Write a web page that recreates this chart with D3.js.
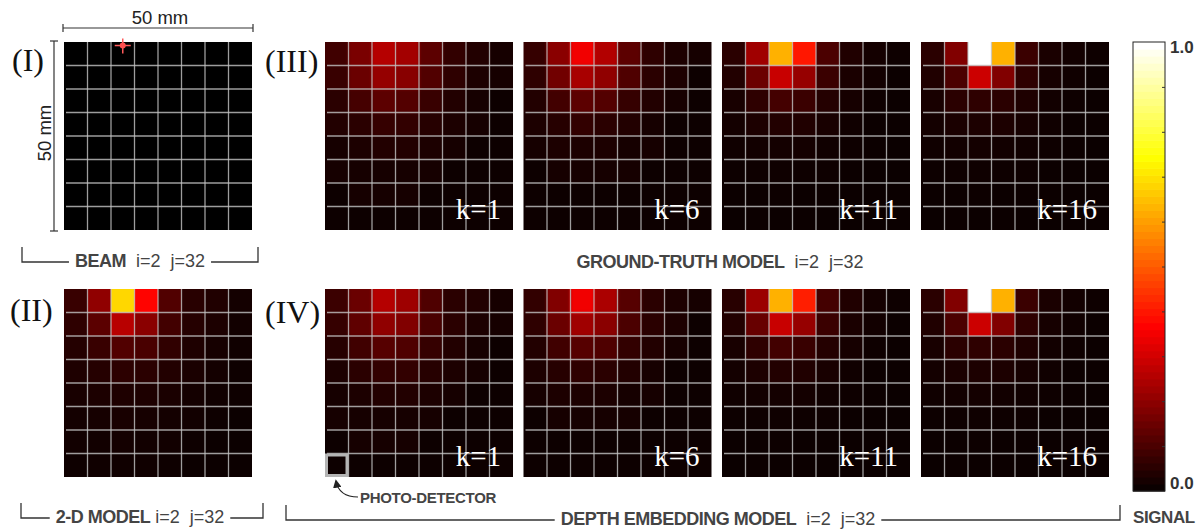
<!DOCTYPE html>
<html>
<head>
<meta charset="UTF-8">
<script src="https://d3js.org/d3.v7.min.js"></script>
<title>Beam / photo-detector maps</title>
<style>
  body { margin: 0; background: #fff; }
  text { white-space: pre; }
</style>
</head>
<body>
<svg></svg>
<script>
const width = 1201, height = 531;

// ---- data (signal, 0..1), rows top to bottom, 8 photo-detectors per row ----
const gridIdx = d3.range(8);

const beamMap = d3.range(8).map(() => d3.range(8).map(() => 0));
const beamSpot = {col: 2, row: 0.15};

const model2d = [
  [.068, .199, .686, .370, .104, .044, .032, .014],
  [.053, .119, .259, .190, .083, .039, .026, .011],
  [.038, .068, .104, .092, .056, .029, .017, .007],
  [.029, .039, .050, .047, .035, .023, .013, .005],
  [.020, .026, .029, .027, .023, .014, .008, .004],
  [.014, .017, .019, .017, .014, .010, .005, .002],
  [.010, .011, .013, .011, .010, .005, .002, .001],
  [.005, .007, .007, .007, .005, .002, .001, .001]
];

const truthK1 = [
  [.080, .166, .255, .228, .119, .060, .035, .016],
  [.068, .143, .207, .187, .104, .053, .029, .013],
  [.047, .087, .119, .107, .068, .038, .020, .008],
  [.032, .050, .063, .059, .041, .025, .013, .005],
  [.020, .029, .035, .032, .025, .016, .007, .002],
  [.013, .017, .020, .019, .014, .008, .004, .001],
  [.007, .010, .011, .010, .007, .004, .001, .001],
  [.002, .004, .005, .004, .002, .001, .000, .000]
];
const truthK6 = [
  [.063, .190, .345, .250, .119, .053, .029, .013],
  [.053, .152, .235, .199, .101, .047, .023, .008],
  [.035, .083, .119, .107, .063, .032, .014, .004],
  [.023, .041, .056, .050, .035, .019, .008, .002],
  [.014, .023, .026, .025, .019, .010, .004, .001],
  [.008, .013, .014, .013, .010, .005, .002, .001],
  [.004, .006, .007, .006, .005, .003, .001, .000],
  [.001, .002, .002, .002, .001, .000, .000, .000]
];
const truthK11 = [
  [.047, .223, .630, .400, .095, .032, .014, .004],
  [.035, .143, .283, .208, .071, .023, .010, .002],
  [.020, .053, .086, .071, .038, .016, .005, .001],
  [.013, .026, .035, .032, .020, .008, .002, .001],
  [.007, .011, .014, .013, .008, .004, .001, .000],
  [.003, .005, .006, .005, .004, .002, .000, .000],
  [.001, .002, .003, .002, .001, .001, .000, .000],
  [.000, .001, .001, .001, .000, .000, .000, .000]
];
const truthK16 = [
  [.047, .176, 1.00, .630, .071, .023, .011, .004],
  [.032, .095, .289, .176, .053, .017, .007, .002],
  [.020, .047, .053, .047, .029, .011, .004, .001],
  [.013, .023, .026, .025, .016, .007, .002, .001],
  [.007, .011, .013, .011, .007, .004, .001, .000],
  [.003, .005, .006, .005, .004, .002, .000, .000],
  [.001, .002, .003, .002, .001, .001, .000, .000],
  [.000, .001, .001, .001, .000, .000, .000, .000]
];

const depthK1 = [
  [.071, .143, .255, .220, .101, .047, .032, .014],
  [.063, .125, .199, .176, .092, .047, .029, .011],
  [.044, .080, .113, .101, .063, .035, .020, .008],
  [.030, .047, .060, .056, .040, .025, .013, .005],
  [.020, .029, .034, .032, .025, .016, .008, .002],
  [.013, .017, .020, .019, .014, .008, .004, .001],
  [.007, .010, .011, .010, .007, .004, .001, .001],
  [.002, .004, .005, .004, .002, .001, .000, .000]
];
const depthK6 = [
  [.060, .176, .345, .240, .113, .050, .029, .013],
  [.053, .143, .223, .190, .095, .047, .023, .008],
  [.035, .080, .113, .101, .060, .032, .014, .004],
  [.023, .041, .053, .050, .035, .019, .008, .002],
  [.014, .023, .026, .025, .019, .010, .004, .001],
  [.008, .013, .014, .013, .010, .005, .002, .001],
  [.004, .006, .007, .006, .005, .003, .001, .000],
  [.001, .002, .002, .002, .001, .000, .000, .000]
];
const depthK11 = [
  [.044, .215, .630, .410, .086, .032, .014, .004],
  [.035, .137, .283, .208, .071, .023, .010, .002],
  [.020, .053, .083, .068, .038, .016, .005, .001],
  [.013, .026, .035, .032, .020, .008, .002, .001],
  [.007, .011, .014, .013, .008, .004, .001, .000],
  [.003, .005, .006, .005, .004, .002, .000, .000],
  [.001, .002, .003, .002, .001, .001, .000, .000],
  [.000, .001, .001, .001, .000, .000, .000, .000]
];
const depthK16 = [
  [.047, .176, 1.00, .630, .071, .023, .011, .004],
  [.032, .095, .289, .176, .053, .017, .007, .002],
  [.020, .047, .053, .047, .029, .011, .004, .001],
  [.013, .023, .026, .025, .016, .007, .002, .001],
  [.007, .011, .013, .011, .007, .004, .001, .000],
  [.003, .005, .006, .005, .004, .002, .000, .000],
  [.001, .002, .003, .002, .001, .001, .000, .000],
  [.000, .001, .001, .001, .000, .000, .000, .000]
];

const kLabels = ["k=1", "k=6", "k=11", "k=16"];
const cbarTicks = d3.range(1, 10).map(d => d / 10);
const cbarLabels = [0, 1];

// ---- layout ----
const size = 188;
const colX = [325, 523.5, 722, 921];
const topY = 42, botY = 289;

// matlab-like "hot" colour map
const hot = d3.scaleLinear()
    .domain([0, 0.365, 0.746, 1])
    .range(["#0b0000", "#ff0000", "#ffff00", "#ffffff"])
    .clamp(true);
const beamColor = d3.scaleLinear().domain([0, 1]).range(["#000000", "#ff0000"]);

const xs = d3.scaleBand().domain(gridIdx).range([0, size]);
const ys = d3.scaleBand().domain(gridIdx).range([0, size]);

const svg = d3.select("svg")
    .attr("width", width)
    .attr("height", height)
    .attr("viewBox", [0, 0, width, height])
    .style("font-family", "'Liberation Sans', Arial, sans-serif");

const defs = svg.append("defs");
defs.append("filter")
    .attr("id", "soft")
    .attr("x", "-10%").attr("y", "-10%").attr("width", "120%").attr("height", "120%")
  .append("feGaussianBlur")
    .attr("stdDeviation", 1.8);
defs.append("clipPath")
    .attr("id", "panel-clip")
  .append("rect")
    .attr("width", size).attr("height", size);

function heatmap(x, y, data, color, label, soft) {
  const g = svg.append("g").attr("transform", `translate(${x},${y})`);
  const cells = data.flatMap((row, r) => row.map((v, c) => ({r, c, v})));
  // edge cells are stretched outward so a blur does not fade at the border
  const pad = soft ? 12 : 0;
  const cellG = g.append("g").attr("clip-path", "url(#panel-clip)")
    .append("g").attr("filter", soft ? "url(#soft)" : null);
  cellG.selectAll("rect")
    .data(cells)
    .join("rect")
      .attr("x", d => xs(d.c) - (d.c === 0 ? pad : 0))
      .attr("y", d => ys(d.r) - (d.r === 0 ? pad : 0))
      .attr("width", d => xs.bandwidth() + 0.5 + (d.c === 0 || d.c === 7 ? pad : 0))
      .attr("height", d => ys.bandwidth() + 0.5 + (d.r === 0 || d.r === 7 ? pad : 0))
      .attr("fill", d => color(d.v));
  const grid = g.append("g")
      .attr("stroke", "#c4c4c4")
      .attr("stroke-opacity", 0.8)
      .attr("stroke-width", 1.3);
  grid.selectAll(".v")
    .data(gridIdx.slice(1))
    .join("line")
      .attr("x1", d => xs(d)).attr("x2", d => xs(d))
      .attr("y1", 0).attr("y2", size);
  grid.selectAll(".h")
    .data(gridIdx.slice(1))
    .join("line")
      .attr("x1", 2).attr("x2", size)
      .attr("y1", d => ys(d)).attr("y2", d => ys(d));
  if (label) {
    g.append("text")
        .attr("x", size - 12)
        .attr("y", size - 11)
        .attr("text-anchor", "end")
        .attr("fill", "#fff")
        .style("font-family", "'Liberation Serif', 'Times New Roman', serif")
        .style("font-size", "29px")
        .text(label);
  }
  return g;
}

// (I) beam
const beamG = heatmap(64, topY, beamMap, beamColor);
const sx = xs(beamSpot.col) + xs.bandwidth() / 2, sy = beamSpot.row * ys.bandwidth();
beamG.append("g")
    .attr("stroke", "#ff5a5a")
    .attr("stroke-width", 1.5)
    .call(g => g.append("line").attr("x1", sx - 8).attr("x2", sx + 8).attr("y1", sy).attr("y2", sy))
    .call(g => g.append("line").attr("x1", sx).attr("x2", sx).attr("y1", sy - 7).attr("y2", sy + 8));
beamG.append("circle").attr("cx", sx).attr("cy", sy).attr("r", 3).attr("fill", "#ff5050");

// (II) 2-D model
heatmap(64, botY, model2d, hot);

// (III) ground truth, (IV) depth embedding
[truthK1, truthK6, truthK11, truthK16].forEach((d, i) => heatmap(colX[i], topY, d, hot, kLabels[i], i < 2));
const depthGs = [depthK1, depthK6, depthK11, depthK16].map((d, i) => heatmap(colX[i], botY, d, hot, kLabels[i], i < 2));

// photo-detector marker
depthGs[0].append("rect")
    .attr("x", xs(0) + 1.5).attr("y", ys(7) + 1.5)
    .attr("width", xs.bandwidth() - 3).attr("height", ys.bandwidth() - 3)
    .attr("fill", "none")
    .attr("stroke", "#b4b4b4")
    .attr("stroke-width", 3);

defs.append("marker")
    .attr("id", "arrow")
    .attr("viewBox", "0 0 10 10")
    .attr("refX", 8).attr("refY", 5)
    .attr("markerWidth", 7).attr("markerHeight", 7)
    .attr("orient", "auto")
  .append("path")
    .attr("d", "M0,0L10,5L0,10z")
    .attr("fill", "#222");

svg.append("path")
    .attr("d", "M358,497 Q339,497 336,481")
    .attr("fill", "none")
    .attr("stroke", "#222")
    .attr("stroke-width", 1.2)
    .attr("marker-end", "url(#arrow)");

svg.append("text")
    .attr("x", 360).attr("y", 503)
    .attr("fill", "#444")
    .style("font-size", "15px")
    .style("font-weight", "bold")
    .style("letter-spacing", "-0.3px")
    .text("PHOTO-DETECTOR");

// roman numerals
const roman = [["(I)", 12, 71], ["(II)", 10, 321], ["(III)", 265, 72], ["(IV)", 265, 323]];
svg.append("g")
    .style("font-family", "'Liberation Serif', 'Times New Roman', serif")
    .style("font-size", "32px")
    .attr("fill", "#111")
  .selectAll("text")
  .data(roman)
  .join("text")
    .attr("x", d => d[1])
    .attr("y", d => d[2])
    .text(d => d[0]);

// dimension lines for beam panel
const dim = svg.append("g").attr("stroke", "#333").attr("stroke-width", 1.2);
dim.append("line").attr("x1", 63).attr("x2", 253).attr("y1", 28).attr("y2", 28);
dim.append("line").attr("x1", 54).attr("x2", 54).attr("y1", 41).attr("y2", 231);
[[63, 28], [253, 28]].forEach(([x, y]) => {
  dim.append("line").attr("x1", x).attr("x2", x).attr("y1", y - 4).attr("y2", y + 4);
});
[[54, 41], [54, 231]].forEach(([x, y]) => {
  dim.append("line").attr("x1", x - 4).attr("x2", x + 4).attr("y1", y).attr("y2", y);
});
svg.append("text").attr("x", 160).attr("y", 24)
    .attr("text-anchor", "middle").attr("fill", "#222")
    .style("font-size", "18.5px").text("50 mm");
svg.append("text").attr("transform", "translate(51,133) rotate(-90)")
    .attr("text-anchor", "middle").attr("fill", "#222")
    .style("font-size", "18.5px").text("50 mm");

// bracket captions
function caption(cx, y, bold, rest, x0, x1) {
  const t = svg.append("text")
      .attr("x", cx).attr("y", y)
      .attr("text-anchor", "middle")
      .attr("fill", "#444")
      .style("font-size", "18px");
  t.append("tspan").style("font-weight", "bold").style("letter-spacing", "-0.5px").text(bold);
  t.append("tspan").text(rest);
  if (x0 == null) return;
  const w = t.node().getComputedTextLength();
  const ly = y - 5;
  svg.append("path")
      .attr("d", `M${x0},${ly - 15}V${ly}H${cx - w / 2 - 6}M${cx + w / 2 + 6},${ly}H${x1}V${ly - 15}`)
      .attr("fill", "none")
      .attr("stroke", "#333")
      .attr("stroke-width", 1.3);
}
caption(140, 267, "BEAM", "  i=2  j=32", 22, 258);
caption(140, 523, "2-D MODEL", " i=2  j=32", 21, 263);
caption(720, 268, "GROUND-TRUTH MODEL", "  i=2  j=32");
caption(718, 525, "DEPTH EMBEDDING MODEL", "  i=2  j=32", 286, 1120);

// colour bar
const cb = {x: 1133, y: 42, w: 32, h: 449};
const cy = d3.scaleLinear().domain([0, 1]).range([cb.y + cb.h, cb.y]);
const bands = d3.range(64).map(i => i / 63);
svg.append("g")
  .selectAll("rect")
  .data(bands)
  .join("rect")
    .attr("x", cb.x)
    .attr("y", (d, i) => cy((i + 1) / 64))
    .attr("width", cb.w)
    .attr("height", cb.h / 64 + 0.6)
    .attr("fill", d => hot(d));
svg.append("rect")
    .attr("x", cb.x).attr("y", cb.y)
    .attr("width", cb.w).attr("height", cb.h)
    .attr("fill", "none").attr("stroke", "#222").attr("stroke-width", 1);
svg.append("g")
    .attr("transform", `translate(${cb.x + cb.w},0)`)
    .call(d3.axisLeft(cy).tickValues(cbarTicks).tickSize(3).tickFormat(""))
    .call(g => g.select(".domain").remove())
    .call(g => g.selectAll(".tick line").attr("stroke", "#333"));
svg.append("g")
  .selectAll("text")
  .data(cbarLabels)
  .join("text")
    .attr("x", cb.x + cb.w + 5)
    .attr("y", d => cy(d) + (d === 1 ? 11 : -2))
    .attr("fill", "#333")
    .style("font-size", "17px")
    .style("font-weight", "bold")
    .text(d => d3.format(".1f")(d));
svg.append("text")
    .attr("x", 1133).attr("y", 523)
    .attr("fill", "#444")
    .style("font-size", "17px")
    .style("font-weight", "bold")
    .style("letter-spacing", "-0.4px")
    .text("SIGNAL");
</script>
</body>
</html>
